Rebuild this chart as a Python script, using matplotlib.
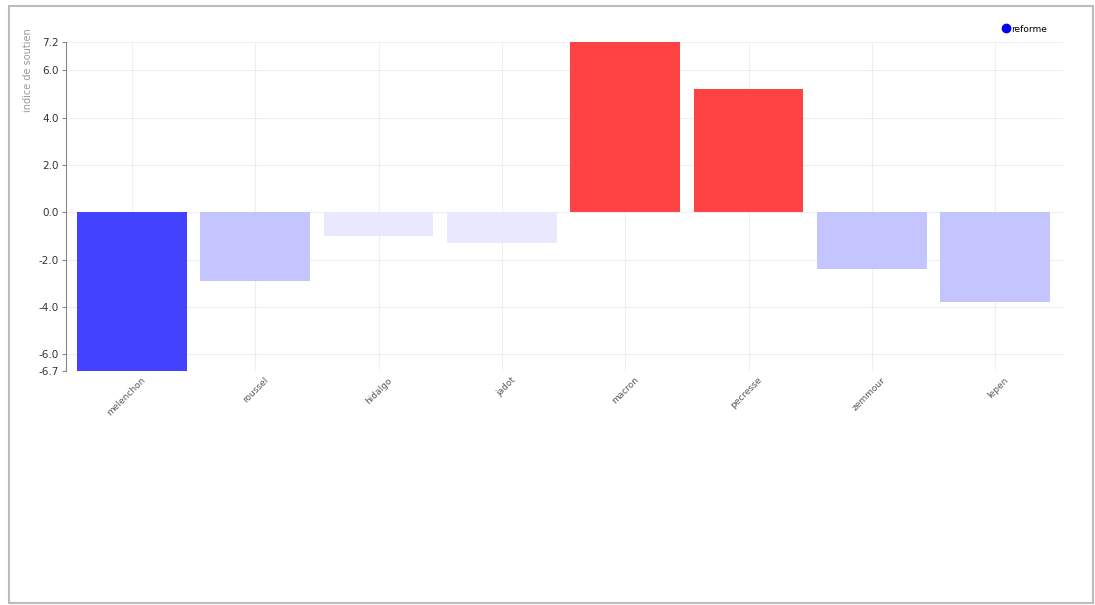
import numpy as np
import matplotlib.pyplot as plt
from matplotlib.patches import Rectangle
from matplotlib.transforms import ScaledTranslation

candidats = ['melenchon', 'roussel', 'hidalgo', 'jadot', 'macron', 'pecresse', 'zemmour', 'lepen']
reforme = [-6.7, -2.9, -1.0, -1.3, 7.2, 5.2, -2.4, -3.8]
couleurs = ['#4242ff', '#c4c4ff', '#e8e8ff', '#e8e8ff', '#ff4242', '#ff4242', '#c4c4ff', '#c4c4ff']
yticks = [-6.7, -6.0, -4.0, -2.0, 0.0, 2.0, 4.0, 6.0, 7.2]

fig = plt.figure(figsize=(10.95, 6.05), dpi=100)
ax = fig.add_axes([66 / 1095, 1 - 371 / 605, 997 / 1095, 329 / 605])

x = np.arange(len(candidats))
ax.bar(x, reforme, width=0.89, color=couleurs, zorder=2)

ax.set_xlim(-0.535, len(candidats) - 0.45)
ax.set_ylim(min(reforme), max(reforme))
ax.set_yticks(yticks)
ax.set_yticklabels([f'{v:.1f}' for v in yticks], fontsize=7.5, color='#333333')
ax.set_xticks(x)
ax.set_xticklabels(candidats, rotation=45, ha='right', va='center', rotation_mode='anchor',
                   fontsize=6.5, color='#5a5a5a')
ax.tick_params(axis='x', length=0, pad=12)
ax.tick_params(axis='y', length=3, color='#888888', pad=2)
decalage = ScaledTranslation(12 / 100, 9 / 100, fig.dpi_scale_trans)
for lab in ax.get_xticklabels():
    lab.set_transform(lab.get_transform() + decalage)

ax.grid(True, color='#eeeeee', linewidth=0.8, zorder=0)
for s in ['top', 'right', 'bottom']:
    ax.spines[s].set_visible(False)
ax.spines['left'].set_color('#888888')

ax.set_ylabel('indice de soutien', fontsize=7, color='#999999')
ax.yaxis.set_label_coords(-0.033, 0.915)

ax.plot([], [], 'o', color='#0000ee', markersize=6, label='reforme')
ax.legend(loc='center right', bbox_to_anchor=(1047 / 1095, 1 - 29 / 605), bbox_transform=fig.transFigure,
          frameon=False, fontsize=6.5, handletextpad=0.05, borderaxespad=0, borderpad=0, handlelength=1)

# cadre de la capture
fig.patches.append(Rectangle((9 / 1095, 2 / 605), 1084 / 1095, 597 / 605, transform=fig.transFigure,
                             fill=False, edgecolor='#bbbbbb', linewidth=1.5))

fig.savefig('out.png', dpi=100)
